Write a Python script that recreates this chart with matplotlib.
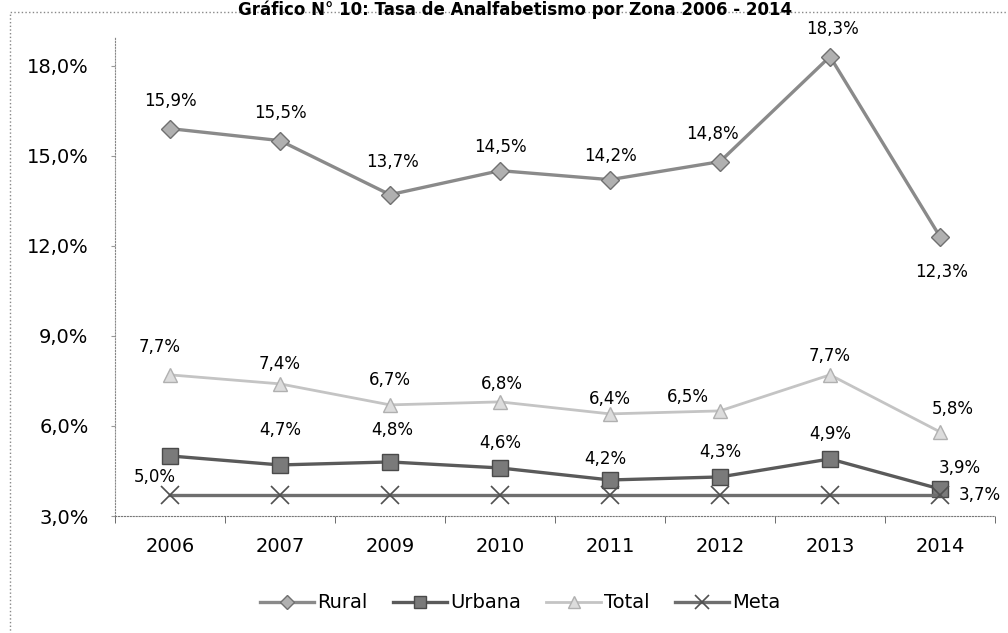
import matplotlib.pyplot as plt
from matplotlib.patches import Rectangle

# Datos
anios = ['2006', '2007', '2009', '2010', '2011', '2012', '2013', '2014']
rural = [15.9, 15.5, 13.7, 14.5, 14.2, 14.8, 18.3, 12.3]
urbana = [5.0, 4.7, 4.8, 4.6, 4.2, 4.3, 4.9, 3.9]
total = [7.7, 7.4, 6.7, 6.8, 6.4, 6.5, 7.7, 5.8]
meta = [3.7, 3.7, 3.7, 3.7, 3.7, 3.7, 3.7, 3.7]

# desplazamientos de etiquetas (pixeles)
off_rural = [(0, 28), (0, 28), (2, 33), (0, 24), (0, 24), (-8, 28), (2, 28), (2, -35)]
off_urbana = [(-15, -21), (0, 35), (2, 32), (0, 25), (-5, 21), (0, 25), (0, 25), (20, 21)]
off_total = [(-10, 28), (0, 20), (0, 25), (2, 18), (0, 15), (-32, 14), (0, 19), (13, 23)]

fig = plt.figure(figsize=(10.08, 6.33), dpi=100)
ax = fig.add_axes([115/1008, 1 - 516/633, 880/1008, 479/633])

x = list(range(len(anios)))
ax.plot(x, rural, color='#8a8a8a', lw=2.4, marker='D', ms=9, mfc='#b0b0b0', mec='#707070', label='Rural')
ax.plot(x, urbana, color='#5a5a5a', lw=2.4, marker='s', ms=11, mfc='#7a7a7a', mec='#4a4a4a', label='Urbana')
ax.plot(x, total, color='#c4c4c4', lw=2.0, marker='^', ms=10, mfc='#dcdcdc', mec='#b0b0b0', label='Total')
ax.plot(x, meta, color='#6e6e6e', lw=2.4, marker='x', ms=13, mew=1.2, mec='#505050', label='Meta')

fs = 12
fs_ax = 14
for i in x:
    ax.annotate(f"{rural[i]:.1f}%".replace('.', ','), (i, rural[i]), xytext=off_rural[i],
                textcoords='offset pixels', ha='center', va='center', fontsize=fs)
    ax.annotate(f"{urbana[i]:.1f}%".replace('.', ','), (i, urbana[i]), xytext=off_urbana[i],
                textcoords='offset pixels', ha='center', va='center', fontsize=fs)
    ax.annotate(f"{total[i]:.1f}%".replace('.', ','), (i, total[i]), xytext=off_total[i],
                textcoords='offset pixels', ha='center', va='center', fontsize=fs)
ax.annotate("3,7%", (7, meta[7]), xytext=(40, 0), textcoords='offset pixels',
            ha='center', va='center', fontsize=fs)

ax.set_xlim(-0.5, 7.5)
ax.set_ylim(3, 18.95)
ax.set_yticks([3, 6, 9, 12, 15, 18])
ax.set_yticklabels(['3,0%', '6,0%', '9,0%', '12,0%', '15,0%', '18,0%'], fontsize=fs_ax)
ax.set_xticks(x)
ax.set_xticklabels(anios, fontsize=fs_ax)
ax.set_xticks([i + 0.5 for i in range(-1, 8)], minor=True)
ax.tick_params(axis='x', which='major', length=0, pad=15)
ax.tick_params(axis='x', which='minor', length=5, color='#555555')
ax.tick_params(axis='y', length=3, color='#999999', pad=16)

for s in ['top', 'right']:
    ax.spines[s].set_visible(False)
ax.spines['left'].set_color('#888888')
ax.spines['left'].set_linestyle(':')
ax.spines['bottom'].set_color('#777777')
ax.spines['bottom'].set_linestyle(':')

fig.legend(loc='center', bbox_to_anchor=(520/1008, 1 - 603/633), ncol=4, frameon=False,
           fontsize=fs_ax, handlelength=2.8, columnspacing=1.3, handletextpad=0.15,
           markerscale=0.8)

# marco exterior
fig.patches.append(Rectangle((10/1008, -0.1), 1.2, 1.1 - 12/633, transform=fig.transFigure,
                             fill=False, ec='#888888', lw=1.0, ls=':'))
fig.text(515/1008, 0.999, "Gráfico N° 10: Tasa de Analfabetismo por Zona 2006 - 2014",
         ha='center', va='top', fontsize=12, fontweight='bold')

fig.savefig('out.png', dpi=100)
